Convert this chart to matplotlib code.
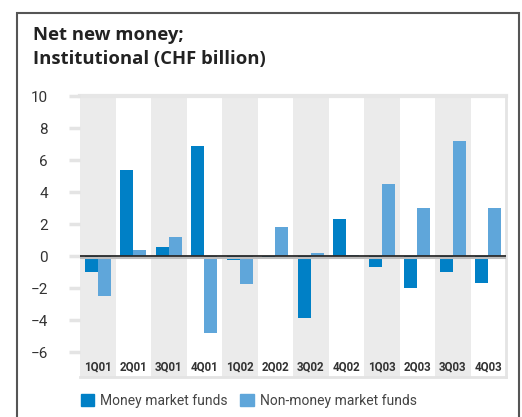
import matplotlib
matplotlib.use("Agg")
import matplotlib.pyplot as plt
from matplotlib.patches import Rectangle, Patch
import numpy as np

quarters = ["1Q01", "2Q01", "3Q01", "4Q01", "1Q02", "2Q02",
            "3Q02", "4Q02", "1Q03", "2Q03", "3Q03", "4Q03"]
money_market = [-1.0, 5.4, 0.55, 6.9, -0.25, -0.2, -3.9, 2.3, -0.7, -2.0, -1.0, -1.7]
non_money_market = [-2.5, 0.35, 1.2, -4.8, -1.75, 1.8, 0.2, 0.05, 4.5, 3.0, 7.2, 3.0]
yticks = [-6, -4, -2, 0, 2, 4, 6, 8, 10]

NARROW = ["Roboto", "DejaVu Sans"]
TITLE = ["Open Sans", "DejaVu Sans"]
C_MM = "#0080c6"
C_NMM = "#5fa6da"
C_BAND = "#ebebeb"
C_TEXT = "#333333"

W, H = 522, 417
fig = plt.figure(figsize=(W / 100, H / 100), dpi=100)

# outer frame (bottom edge runs past the canvas)
fig.patches.append(Rectangle((16.5 / W, -0.05), (518.5 - 16.5) / W, 1.05 - 12.5 / H,
                             transform=fig.transFigure, fill=False,
                             edgecolor="#555555", linewidth=1.5))

fig.text(33 / W, 1 - 40 / H, "Net new money;", fontsize=13.3, fontweight="bold",
         family=TITLE, color="#222222", va="baseline", ha="left")
fig.text(33 / W, 1 - 64 / H, "Institutional (CHF billion)", fontsize=13.3,
         fontweight="bold", family=TITLE, color="#222222", va="baseline", ha="left")

x0, x1, ytop, ybot = 80, 506, 96, 377
ax = fig.add_axes([x0 / W, 1 - ybot / H, (x1 - x0) / W, (ybot - ytop) / H])
ppu = 16.0
ymin = 10 - (ybot - ytop) / ppu
ax.set_ylim(ymin, 10)
n = len(quarters)
ax.set_xlim(-0.5, n - 0.5)

# alternating column bands
for i in range(n):
    if i % 2 == 0:
        ax.axvspan(i - 0.5, i + 0.5, color=C_BAND, lw=0, zorder=0)

x = np.arange(n)
bw = 0.36
ax.bar(x - bw / 2, money_market, width=bw, color=C_MM, zorder=3,
       label="Money market funds")
ax.bar(x + bw / 2, non_money_market, width=bw, color=C_NMM, zorder=3,
       label="Non-money market funds")

# zero line with soft shadow
ax.axhline(-0.1, color="#bdbdbd", lw=1.5, zorder=4)
ax.axhline(0, color="#2a2a2a", lw=1.3, zorder=5)
ax.axhline(10, color="#e6e6e6", lw=3, zorder=1, clip_on=False)

label_y = 10 - (367 - ytop) / ppu
for i, q in enumerate(quarters):
    ax.text(i, label_y, q, ha="center", va="center", fontsize=8.3,
            fontweight="bold", family=NARROW, color=C_TEXT, zorder=6)

ax.set_yticks(yticks)
ax.set_yticklabels([f"{v}".replace("-", "\u2212") for v in yticks],
                   family=NARROW, fontsize=11, color=C_TEXT)
ax.tick_params(axis="y", length=8, width=2.5, color="#e4e4e4", pad=15)
ax.set_xticks([])
for side in ["left", "top"]:
    ax.spines[side].set_visible(False)
for side in ["right", "bottom"]:
    ax.spines[side].set_color("#e4e4e4")
    ax.spines[side].set_linewidth(2)

leg = fig.legend(handles=[Patch(color=C_MM, label="Money market funds"),
                          Patch(color=C_NMM, label="Non-money market funds")],
                 loc="center left", bbox_to_anchor=(68 / W, 1 - 401 / H),
                 ncol=2, frameon=False, handlelength=1.0, handleheight=1.0,
                 handletextpad=0.4, columnspacing=0.9,
                 prop={"family": NARROW, "size": 10})
for t in leg.get_texts():
    t.set_color("#444444")

fig.savefig("out.png", dpi=100)
